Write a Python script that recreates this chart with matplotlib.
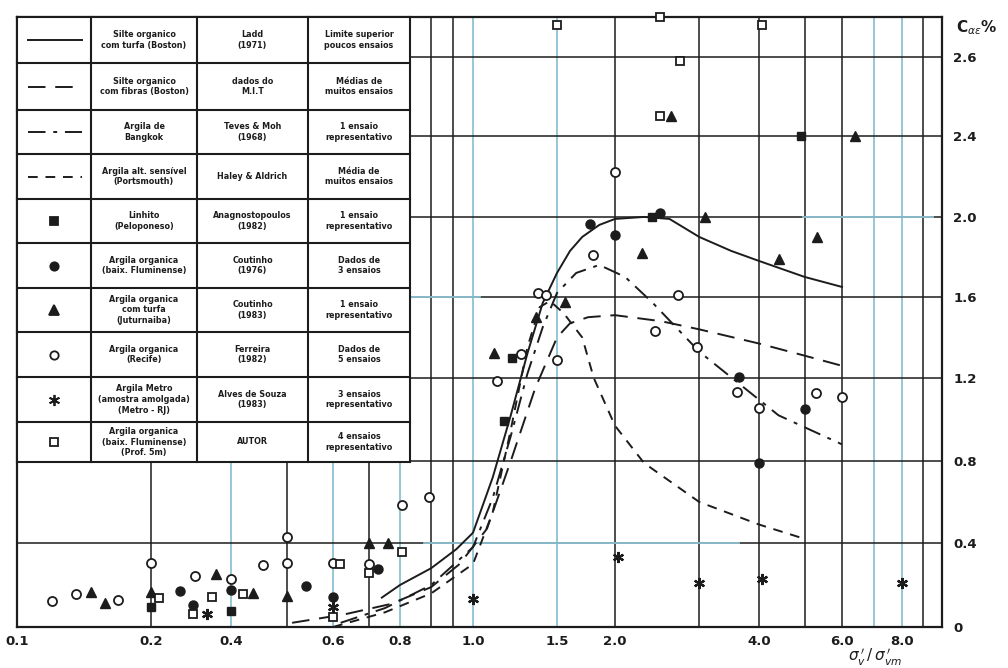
import numpy as np
import matplotlib
matplotlib.use("Agg")
from matplotlib import pyplot as plt

# ---- data --------------------------------------------------------------
# curves (Silte com turfa / Silte com fibras / Bangkok / Portsmouth)
ladd_x = [0.74, 0.8, 0.88, 0.95, 1.0, 1.1, 1.2, 1.3, 1.4, 1.5, 1.6, 1.7, 1.85, 2.0, 2.3, 2.6, 3.0, 3.5, 4.0, 5.0, 6.0]
ladd_y = [0.14, 0.2, 0.28, 0.37, 0.45, 0.72, 1.02, 1.32, 1.57, 1.72, 1.83, 1.9, 1.96, 1.99, 2.0, 1.99, 1.9, 1.83, 1.78, 1.7, 1.65]
mit_x = [0.51, 0.63, 0.77, 0.88, 0.96, 1.07, 1.2, 1.35, 1.5, 1.6, 1.75, 2.0, 2.5, 3.0, 4.0, 5.0, 6.0]
mit_y = [0.02, 0.06, 0.11, 0.19, 0.3, 0.47, 0.8, 1.15, 1.4, 1.47, 1.5, 1.51, 1.48, 1.44, 1.37, 1.31, 1.26]
teves_x = [0.62, 0.75, 0.88, 1.0, 1.1, 1.2, 1.3, 1.4, 1.5, 1.65, 1.85, 2.1, 2.4, 3.0, 3.6, 4.4, 6.0]
teves_y = [0.02, 0.09, 0.2, 0.38, 0.62, 0.92, 1.22, 1.45, 1.62, 1.72, 1.76, 1.7, 1.57, 1.33, 1.18, 1.02, 0.88]
haley_x = [0.6, 0.75, 0.88, 1.0, 1.1, 1.2, 1.3, 1.38, 1.45, 1.55, 1.7, 1.8, 2.0, 2.3, 3.0, 4.0, 5.0]
haley_y = [0.0, 0.07, 0.16, 0.3, 0.55, 0.95, 1.35, 1.55, 1.58, 1.52, 1.4, 1.2, 0.97, 0.79, 0.6, 0.49, 0.42]

# points
linhito_x = [0.2, 0.4, 1.16, 1.207, 2.39, 4.91]
linhito_y = [0.095, 0.075, 0.995, 1.30, 2.0, 2.4]
cout76_x = [0.257, 0.288, 0.4, 0.539, 0.6, 0.728, 1.77, 2.0, 2.48, 3.63, 4.0, 5.0]
cout76_y = [0.171, 0.105, 0.176, 0.195, 0.143, 0.276, 1.965, 1.91, 2.02, 1.205, 0.79, 1.05]
cout83_x = [0.147, 0.158, 0.2, 0.351, 0.436, 0.5, 0.7, 0.76, 1.107, 1.355, 1.56,
            2.28, 2.62, 3.09, 4.41, 5.3, 6.38]
cout83_y = [0.167, 0.114, 0.167, 0.252, 0.162, 0.148, 0.40, 0.40, 1.323, 1.50, 1.575,
            1.82, 2.45, 2.0, 1.79, 1.90, 2.4]
ferreira_x = [0.12, 0.136, 0.169, 0.2, 0.293, 0.4, 0.454, 0.5, 0.5, 0.6, 0.7, 0.805,
              0.875, 1.123, 1.26, 1.368, 1.42, 1.5, 1.79, 2.0, 2.42, 2.71, 2.97, 3.6,
              4.0, 5.28, 6.0]
ferreira_y = [0.124, 0.157, 0.129, 0.305, 0.243, 0.229, 0.295, 0.43, 0.305, 0.305, 0.30,
              0.585, 0.624, 1.185, 1.32, 1.62, 1.61, 1.29, 1.81, 2.22, 1.43, 1.61, 1.353,
              1.13, 1.054, 1.127, 1.11]
alves_x = [0.325, 0.6, 1.0, 2.03, 3.0, 4.05, 8.0]
alves_y = [0.062, 0.095, 0.133, 0.333, 0.21, 0.23, 0.21]
autor_x = [0.214, 0.288, 0.339, 0.42, 0.6, 0.618, 0.7, 0.805, 1.5, 2.48, 2.48, 2.73, 4.06]
autor_y = [0.138, 0.062, 0.143, 0.157, 0.048, 0.30, 0.257, 0.357, 2.68, 2.70, 2.45, 2.59, 2.68]

x_ticks = [0.1, 0.2, 0.4, 0.6, 0.8, 1.0, 1.5, 2.0, 4.0, 6.0, 8.0]
x_ticklabels = ["0.1", "0.2", "0.4", "0.6", "0.8", "1.0", "1.5", "2.0", "4.0", "6.0", "8.0"]
y_ticks = [0, 0.4, 0.8, 1.2, 1.6, 2.0, 2.4, 2.6]
y_ticklabels = ["0", "0.4", "0.8", "1.2", "1.6", "2.0", "2.4", "2.6"]
grid_x = [0.2, 0.4, 0.5, 0.6, 0.7, 0.8, 0.88, 0.94, 1.0, 1.5, 2.0, 3.0, 4.0, 5.0,
          6.0, 7.0, 8.0, 9.0]
grid_x_blue = [False, True, False, True, False, True, False, False, True, True, False,
               False, False, False, False, True, True, False]
grid_y = [0.4, 0.8, 1.2, 1.6, 2.0, 2.4, 2.6]

table_rows = [
    ("line", "-", "Silte organico\ncom turfa (Boston)", "Ladd\n(1971)", "Limite superior\npoucos ensaios"),
    ("line", (0, (9, 5)), "Silte organico\ncom fibras (Boston)", "dados do\nM.I.T", "Médias de\nmuitos ensaios"),
    ("line", (0, (9, 4, 2, 4)), "Argila de\nBangkok", "Teves & Moh\n(1968)", "1 ensaio\nrepresentativo"),
    ("line", (0, (5, 4)), "Argila alt. sensível\n(Portsmouth)", "Haley & Aldrich", "Média de\nmuitos ensaios"),
    ("mark", "s_f", "Linhito\n(Peloponeso)", "Anagnostopoulos\n(1982)", "1 ensaio\nrepresentativo"),
    ("mark", "o_f", "Argila organica\n(baix. Fluminense)", "Coutinho\n(1976)", "Dados de\n3 ensaios"),
    ("mark", "^_f", "Argila organica\ncom turfa\n(Juturnaiba)", "Coutinho\n(1983)", "1 ensaio\nrepresentativo"),
    ("mark", "o_o", "Argila organica\n(Recife)", "Ferreira\n(1982)", "Dados de\n5 ensaios"),
    ("mark", "*_f", "Argila Metro\n(amostra amolgada)\n(Metro - RJ)", "Alves de Souza\n(1983)", "3 ensaios\nrepresentativo"),
    ("mark", "s_o", "Argila organica\n(baix. Fluminense)\n(Prof. 5m)", "AUTOR", "4 ensaios\nrepresentativo"),
]

# ---- hand drawn axis of the original: piecewise calibration -------------
xk = np.log10([0.05, 0.1, 0.2, 0.4, 0.6, 0.8, 1.0, 1.5, 2.0, 4.0, 6.0, 8.0, 10.0, 20.0])
xp = np.array([-117, 0, 134, 214, 316, 383, 456, 540, 598, 742, 825, 885, 925, 1049.0])
yk = np.array([-1, 0, 0.4, 0.8, 1.2, 1.6, 2.0, 2.4, 2.6, 3.0])
yp = np.array([-210, 0, 84, 166, 249, 330, 410, 491, 570, 728.0])


def xfwd(v):
    return np.interp(np.log10(np.clip(v, 1e-6, None)), xk, xp)


def xinv(p):
    return 10 ** np.interp(p, xp, xk)


def yfwd(v):
    return np.interp(v, yk, yp)


def yinv(p):
    return np.interp(p, yp, yk)


W, H = 1008, 668
L, R, T, B = 17, 942, 17, 627
fig = plt.figure(figsize=(W / 100, H / 100), dpi=100)
ax = fig.add_axes([L / W, (H - B) / H, (R - L) / W, (B - T) / H])
ax.set_xscale("function", functions=(xfwd, xinv))
ax.set_yscale("function", functions=(yfwd, yinv))
ax.set_xlim(0.1, 10.0)
ax.set_ylim(0, 2.701)

black = "#1c1c1c"
blue = "#8ec3d2"
for gx, isblue in zip(grid_x, grid_x_blue):
    ax.axvline(gx, color=blue if isblue else black, lw=1.3 if isblue else 1.1, zorder=1)
for gy in grid_y:
    ax.axhline(gy, color=black, lw=1.1, zorder=1)
# faint printed (blue) grid showing through on a few rows
ax.axhline(0.4, xmin=0.44, xmax=0.78, color=blue, lw=1.3, zorder=1.2)
ax.axhline(1.6, xmin=0.0, xmax=0.5, color=blue, lw=1.3, zorder=1.2)
ax.axhline(2.0, xmin=0.85, xmax=0.99, color=blue, lw=1.3, zorder=1.2)

# curves
ax.plot(ladd_x, ladd_y, color=black, lw=1.4, ls="-", zorder=4)
ax.plot(mit_x, mit_y, color=black, lw=1.4, ls=(0, (9, 5)), zorder=4)
ax.plot(teves_x, teves_y, color=black, lw=1.4, ls=(0, (9, 4, 2, 4)), zorder=4)
ax.plot(haley_x, haley_y, color=black, lw=1.4, ls=(0, (5, 4)), zorder=4)

mk = dict(ls="none", zorder=5, clip_on=False)
ax.plot(linhito_x, linhito_y, marker="s", ms=6, mfc=black, mec=black, **mk)
ax.plot(cout76_x, cout76_y, marker="o", ms=6.5, mfc=black, mec=black, **mk)
ax.plot(cout83_x, cout83_y, marker="^", ms=7.5, mfc=black, mec=black, **mk)
ax.plot(ferreira_x, ferreira_y, marker="o", ms=6.5, mfc="white", mec=black, mew=1.3, **mk)
ax.plot(alves_x, alves_y, marker=(6, 2, 0), ms=8, mec=black, mew=1.6, **mk)
ax.plot(autor_x, autor_y, marker="s", ms=6, mfc="white", mec=black, mew=1.3, **mk)

# axes, ticks, labels
for s in ax.spines.values():
    s.set_linewidth(1.6)
    s.set_color(black)
ax.set_xticks(x_ticks, x_ticklabels)
ax.set_yticks(y_ticks, y_ticklabels)
ax.minorticks_off()
ax.yaxis.tick_right()
ax.tick_params(length=0, labelsize=9.5, colors=black)
ax.tick_params(axis="x", pad=6)
ax.tick_params(axis="y", pad=8)
for lab in ax.get_xticklabels() + ax.get_yticklabels():
    lab.set_fontweight("bold")
fig.text(875 / W, 1 - 657 / H, r"$\sigma_v^{\,\prime}\,/\,\sigma_{vm}^{\,\prime}$",
         ha="center", va="center", fontsize=11, color=black)
fig.text(956 / W, 1 - 28 / H, r"C$_{\alpha\varepsilon}$%", ha="left", va="center",
         fontsize=11, color=black, fontweight="bold")

# ---- legend table (upper left) -------------------------------------------
def fx(px):
    return (px - L) / (R - L)


def fy(py):
    return (B - py) / (B - T)


tab_cols = [17, 91, 197, 308, 410]
tab_rows = [17, 63, 110, 154, 199, 243, 288, 332, 377, 422, 462]
ax.add_patch(plt.Rectangle((fx(17), fy(462)), fx(410) - fx(17), fy(17) - fy(462),
                           transform=ax.transAxes, facecolor="white",
                           edgecolor="none", zorder=3))
for c in tab_cols:
    ax.plot([fx(c), fx(c)], [fy(17), fy(462)], transform=ax.transAxes,
            color=black, lw=1.5, zorder=3.5, clip_on=False)
for r in tab_rows:
    ax.plot([fx(17), fx(410)], [fy(r), fy(r)], transform=ax.transAxes,
            color=black, lw=1.5, zorder=3.5, clip_on=False)

markers = {"s_f": ("s", black, 6), "o_f": ("o", black, 6), "^_f": ("^", black, 7),
           "o_o": ("o", "white", 6), "*_f": ((6, 2, 0), black, 8),
           "s_o": ("s", "white", 6)}
for i, (kind, sty, c1, c2, c3) in enumerate(table_rows):
    yc = fy((tab_rows[i] + tab_rows[i + 1]) / 2)
    if kind == "line":
        ax.plot([fx(28), fx(82)], [yc, yc], transform=ax.transAxes, color=black,
                lw=1.4, ls=sty, zorder=4)
    else:
        m, fc, ms = markers[sty]
        ax.plot([fx(54)], [yc], transform=ax.transAxes, marker=m, ms=ms, mfc=fc,
                mec=black, mew=1.3, ls="none", zorder=4)
    for txt, (a, b) in zip((c1, c2, c3), zip(tab_cols[1:], tab_cols[2:])):
        ax.text(fx((a + b) / 2), yc, txt, transform=ax.transAxes, ha="center",
                va="center", fontsize=5.8, fontweight="bold", color=black,
                linespacing=1.25, zorder=4)

fig.savefig("out.png", dpi=100)
